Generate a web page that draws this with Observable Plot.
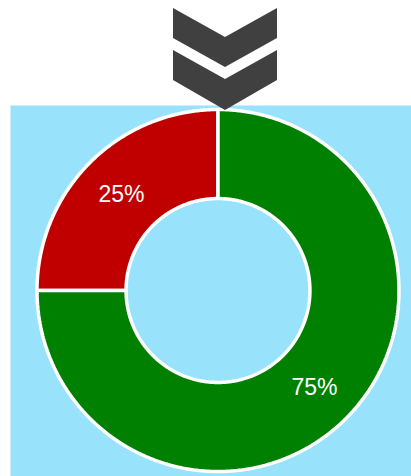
<!DOCTYPE html>
<html><head><meta charset="utf-8">
<script src="https://cdn.jsdelivr.net/npm/d3@7"></script>
<script src="https://cdn.jsdelivr.net/npm/@observablehq/plot@0.6"></script>
<style>
body{margin:0;background:#fff}
#wrap{position:relative;width:411px;height:476px;overflow:hidden}
#chev{position:absolute;left:0;top:0}
</style>
</head><body><div id="wrap"></div>
<script>
// Data
const categories = ["Red", "Green"];
const values = [25, 75];
const labels = ["25%", "75%"];
const colors = ["#c00000", "#008000"];

const innerRatio = 0.508;
const pie = d3.pie().sort(null).startAngle(-Math.PI / 2).endAngle(1.5 * Math.PI)(values);

function ringPolygon(a0, a1, r0, r1) {
  const pts = [];
  const n = Math.max(2, Math.ceil((a1 - a0) / (Math.PI / 360)));
  for (let i = 0; i <= n; i++) {
    const a = a0 + (a1 - a0) * i / n;
    pts.push({x: r1 * Math.sin(a), y: r1 * Math.cos(a)});
  }
  for (let i = n; i >= 0; i--) {
    const a = a0 + (a1 - a0) * i / n;
    pts.push({x: r0 * Math.sin(a), y: r0 * Math.cos(a)});
  }
  return pts;
}

const sliceMarks = pie.map((p, i) => Plot.line(ringPolygon(p.startAngle, p.endAngle, innerRatio, 1), {
  x: "x", y: "y", fill: colors[i], stroke: "white", strokeWidth: 3.5, curve: "linear-closed", strokeLinejoin: "miter"
}));

const labelData = pie.map((p, i) => {
  const a = (p.startAngle + p.endAngle) / 2, r = (1 + innerRatio) / 2;
  return {x: r * Math.sin(a), y: r * Math.cos(a), label: labels[i]};
});

const chart = Plot.plot({
  width: 411, height: 476,
  marginLeft: 10, marginTop: 105, marginRight: 0, marginBottom: 0,
  x: {domain: [-1.1464, 1.0691], axis: null},
  y: {domain: [-1.0276, 1.0221], axis: null},
  style: {fontFamily: "'Liberation Sans', Arial, sans-serif", background: "white"},
  marks: [
    Plot.frame({fill: "#98e2fc", stroke: "none"}),
    ...sliceMarks,
    Plot.text(labelData, {x: "x", y: "y", text: "label", fill: "white", fontSize: 23, dy: 1, fontFamily: "'Liberation Sans', Arial, sans-serif"})
  ]
});
const wrap = document.getElementById("wrap");
wrap.appendChild(chart);

// Chevron icon overlay
const ns = "http://www.w3.org/2000/svg";
const chev = document.createElementNS(ns, "svg");
chev.setAttribute("id", "chev");
chev.setAttribute("width", "411");
chev.setAttribute("height", "120");
chev.innerHTML = `<polygon fill="#404040" points="173,8 225,37 277,8 277,38 225,67 173,38"/>
<polygon fill="#404040" points="173,50 225,79 277,50 277,80 225,110 173,80"/>`;
wrap.appendChild(chev);
</script>
</body></html>
